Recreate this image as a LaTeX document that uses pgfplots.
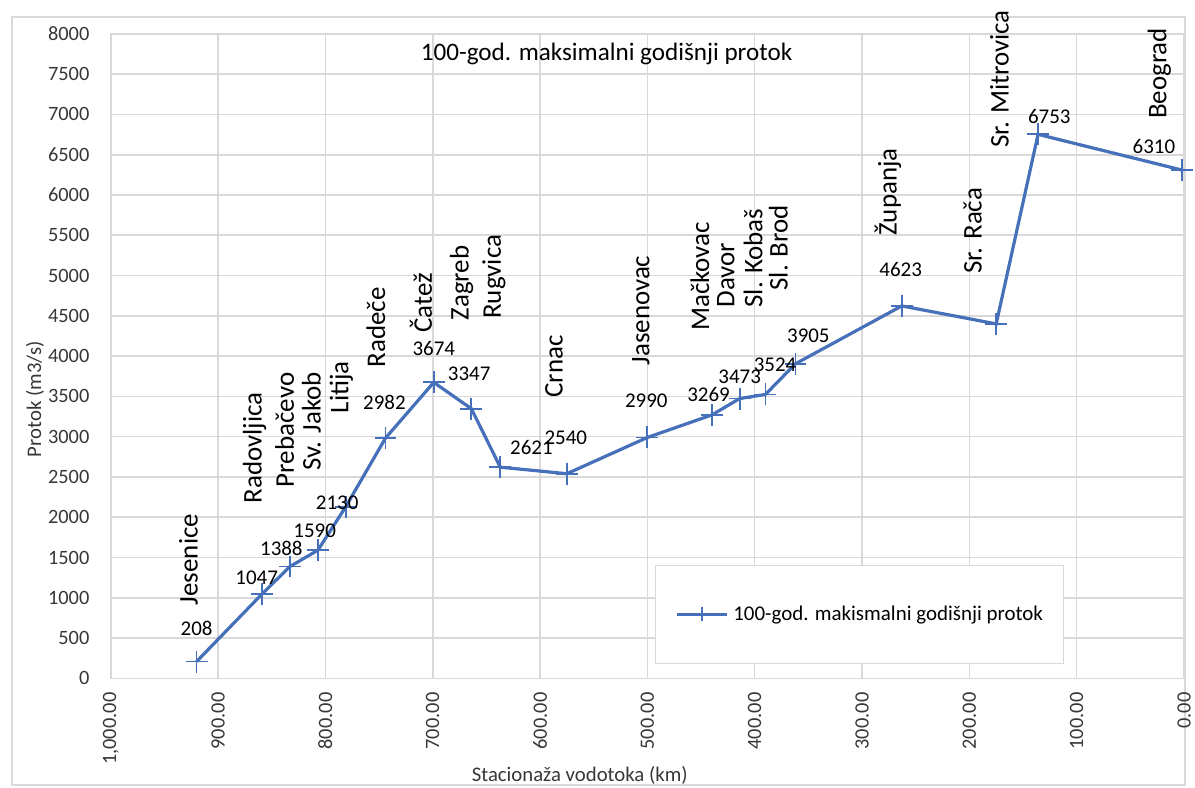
\documentclass[border=0pt]{standalone}
\usepackage{fontspec}
\setmainfont{Carlito}
\usepackage{pgfplots}
\pgfplotsset{compat=1.18}
\usepackage{pgfplotstable}
\definecolor{serie}{RGB}{70,112,185}
\definecolor{gridc}{RGB}{217,217,217}
\definecolor{tickc}{RGB}{55,55,55}

\pgfplotstableread{
km q
920 208
859 1047
833 1388
807 1590
781 2130
744 2982
699 3674
664 3347
637 2621
575 2540
500 2990
440 3269
414 3473
390 3524
362 3905
263 4623
175 4400
136 6753
2 6310
}\flow

\pgfplotstableread{
x y label
927.5 905 Jesenice
866 2170 Radovljica
838 2370 Prebačevo
813 2580 {Sv. Jakob}
785 3285 Litija
753 3855 Radeče
711 4290 Čatež
673 4440 Zagreb
643 4460 Rugvica
587 3480 Crnac
506 3880 Jasenovac
451 4310 Mačkovac
427 4600 Davor
401.5 4600 {Sl. Kobaš}
378 4810 {Sl. Brod}
276 5490 Županja
197 5020 {Sr. Rača}
172 6580 {Sr. Mitrovica}
23 6940 Beograd
}\stations

\pgfplotstableread{
x y label
920 620 208
864 1250 1047
841 1610 1388
810 1835 1590
789 2180 2130
745 3420 2982
699 4100 3674
666 3780 3347
608 2860 2621
576 2990 2540
501 3445 2990
443 3520 3269
414 3740 3473
381 3890 3524
350 4250 3905
264 5080 4623
125.5 6975 6753
28 6605 6310
}\values

\begin{document}
\begin{tikzpicture}
\useasboundingbox (0,0) rectangle (599pt,394.5pt);
\draw[gridc, line width=0.6pt] (6pt,1pt) rectangle (594pt,386pt);
\begin{axis}[
  at={(55.5pt,54.5pt)}, anchor=south west,
  scale only axis, width=538pt, height=323pt,
  xmin=0, xmax=1000, x dir=reverse, ymin=0, ymax=8000,
  xtick={0,100,...,1000}, ytick={0,500,...,8000},
  grid=major, grid style={gridc, line width=0.8pt},
  axis line style={gridc, line width=0.8pt},
  major tick length=0pt,
  clip=false,
  /pgf/number format/assume math mode=true,
  tick label style={font=\fontsize{10.2}{12}\selectfont, text=tickc},
  xticklabel={\pgfmathprintnumber[fixed,fixed zerofill,precision=2,1000 sep={,}]{\tick}},
  yticklabel={\pgfmathprintnumber[fixed,precision=0,1000 sep={}]{\tick}},
  xticklabel style={rotate=90, anchor=east, inner sep=0pt},
  yticklabel style={anchor=east, inner sep=0pt},
  xticklabel shift=7pt, yticklabel shift=10.5pt,
  xlabel={Stacionaža vodotoka (km)},
  ylabel={Protok (m3/s)},
  every axis x label/.style={at={(axis description cs:0.437,-0.150)}, anchor=center, font=\fontsize{10.4}{12}\selectfont, text=tickc},
  every axis y label/.style={at={(axis description cs:-0.0706,0.433)}, rotate=90, anchor=center, font=\fontsize{10.4}{12}\selectfont, text=tickc},
  title={100-god. maksimalni godišnji protok},
  every axis title/.style={at={(axis description cs:0.462,0.969)}, anchor=center, font=\fontsize{12.6}{15}\selectfont},
  legend image code/.code={\draw[mark repeat=2,mark phase=2,#1,mark size=3.5pt] plot coordinates {(0pt,0pt)(12.5pt,0pt)(25pt,0pt)};},
  legend style={at={(0.507,0.023)}, anchor=south west, draw=gridc, fill=white,
    inner xsep=10pt, inner ysep=20pt, column sep=2.5pt,
    nodes={inner sep=0pt, font=\fontsize{10.5}{12}\selectfont}},
  legend cell align=left,
]
\addplot[serie, line width=1.6pt, mark=+, mark size=5.5pt, mark options={line width=0.9pt}]
  table[x=km,y=q]{\flow};
\addlegendentry{100-god. makismalni godišnji protok\hspace{48.5pt}}

\addplot[draw=none, forget plot, nodes near coords, point meta=explicit symbolic,
  every node near coord/.append style={rotate=90, anchor=west, inner sep=0pt, font=\fontsize{13.5}{15}\selectfont, text=black}]
  table[x=x,y=y,meta=label]{\stations};

\addplot[draw=none, forget plot, nodes near coords, point meta=explicit symbolic,
  every node near coord/.append style={anchor=center, inner sep=0pt, font=\fontsize{10.5}{12}\selectfont, text=black}]
  table[x=x,y=y,meta=label]{\values};
\end{axis}
\end{tikzpicture}
\end{document}
